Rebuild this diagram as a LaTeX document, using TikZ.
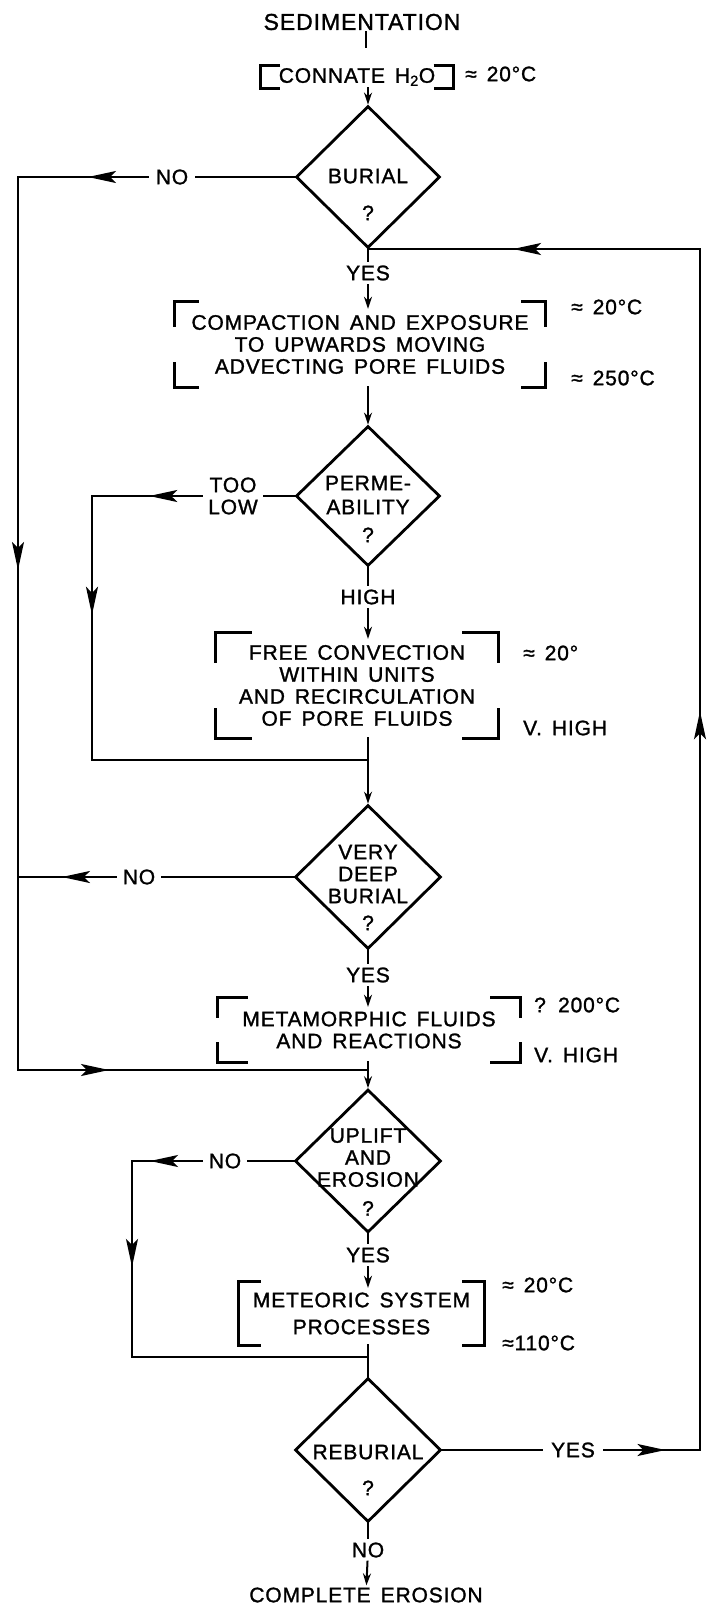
\documentclass[tikz,border=0pt]{standalone}
\usepackage{fontspec}
\setmainfont[LetterSpace=4,WordSpace=1.5,FakeBold=1.3]{Liberation Sans}
\usetikzlibrary{positioning, calc, shapes.geometric, arrows.meta, decorations.markings}

\newcommand{\cornerbox}[3]{%
  \draw[bracket] ([yshift=-#3]#1.north west) -- (#1.north west) -- ([xshift=#2]#1.north west);
  \draw[bracket] ([yshift=-#3]#1.north east) -- (#1.north east) -- ([xshift=-#2]#1.north east);
  \draw[bracket] ([yshift=#3]#1.south west) -- (#1.south west) -- ([xshift=#2]#1.south west);
  \draw[bracket] ([yshift=#3]#1.south east) -- (#1.south east) -- ([xshift=-#2]#1.south east);
}
\newcommand{\fullbox}[2]{%
  \draw[bracket] ([xshift=#2]#1.north west) -- (#1.north west) -- (#1.south west) -- ([xshift=#2]#1.south west);
  \draw[bracket] ([xshift=-#2]#1.north east) -- (#1.north east) -- (#1.south east) -- ([xshift=-#2]#1.south east);
}

\begin{document}
\begin{tikzpicture}[x=1pt, y=-1pt,
  every node/.style={font=\fontsize{21}{22}\selectfont, inner sep=0pt},
  flow/.style={line width=2pt, line cap=rect},
  arr/.style={flow, -{Stealth[length=12pt,width=8pt]}},
  midarr/.style={postaction={decorate,decoration={markings,
    mark=at position #1 with {\arrow{Stealth[length=28pt,width=12pt,inset=6pt]}}}}},
  decision/.style={draw, diamond, line width=2.8pt, minimum width=144pt, minimum height=142pt},
  procbox/.style={rectangle, align=center},
  bracket/.style={line width=3pt},
  answer/.style={inner xsep=8pt, inner ysep=4pt, align=center},
  temp/.style={anchor=west}]
\useasboundingbox (0,0) rectangle (710,1612);

% boxes and decisions
\node[font=\fontsize{23}{24}\selectfont, inner sep=2pt] (sed) at (362,22) {SEDIMENTATION};
\node[procbox, minimum width=193pt, minimum height=22pt] (connate) at (357,77) {CONNATE H\textsubscript{2}O};
\node[decision] (burial) at (368,177) {};
\node[procbox, minimum width=371pt, minimum height=85pt] (compaction) at (360,344.5)
  {COMPACTION AND EXPOSURE\\TO UPWARDS MOVING\\ADVECTING PORE FLUIDS};
\node[decision, minimum height=140pt] (perm) at (368,496) {};
\node[procbox, minimum width=282pt, minimum height=105pt] (free) at (357,685.5)
  {FREE CONVECTION\\WITHIN UNITS\\AND RECIRCULATION\\OF PORE FLUIDS};
\node[decision, minimum width=146pt, minimum height=144pt] (vdeep) at (368,877) {};
\node[procbox, minimum width=302pt, minimum height=64pt] (metamorphic) at (369,1030)
  {METAMORPHIC FLUIDS\\AND REACTIONS};
\node[decision, minimum width=146pt, minimum height=143pt] (uplift) at (368,1161) {};
\node[procbox, minimum width=245pt, minimum height=63pt] (meteoric) at (361.5,1313.5)
  {METEORIC SYSTEM\\[5pt]PROCESSES};
\node[decision, minimum width=146pt, minimum height=144pt] (reburial) at (368,1450) {};
\node[inner sep=2pt] (erosion) at (366,1595) {COMPLETE EROSION};

% text in the diamonds
\node[align=center] (burialt) at (368,194.5) {BURIAL\\[15pt]?};
\node[align=center] (permt) at (368,509) {PERME-\\[2pt]ABILITY\\[6pt]?};
\node[align=center] (vdeept) at (368,887.5) {VERY\\DEEP\\BURIAL\\[5pt]?};
\node[align=center] (upliftt) at (368,1172) {UPLIFT\\AND\\EROSION\\[7pt]?};
\node[align=center] (reburialt) at (368,1470) {REBURIAL\\[14pt]?};

% brackets
\fullbox{connate}{20pt}
\cornerbox{compaction}{25pt}{25pt}
\cornerbox{free}{36pt}{30pt}
\cornerbox{metamorphic}{30pt}{20pt}
\fullbox{meteoric}{22pt}

% temperatures
\node[temp] (t1) at (465,74) {≈ 20°C};
\node[temp] (t2) at (571,307) {≈ 20°C};
\node[temp] (t3) at (571,378) {≈ 250°C};
\node[temp] (t4) at (523,653) {≈ 20°};
\node[temp] (t5) at (523,728) {V. HIGH};
\node[temp] (t6) at (534,1005) {? 200°C};
\node[temp] (t7) at (534,1055) {V. HIGH};
\node[temp] (t8) at (502,1285) {≈ 20°C};
\node[temp] (t9) at (502,1343) {≈110°C};

% answers
\node[answer] (byes) at (368,273) {YES};
\node[answer] (burno) at (172,177) {NO};
\node[answer, inner xsep=6pt] (toolow) at (233,496) {TOO\\LOW};
\node[answer] (high) at (368,597) {HIGH};
\node[answer, inner xsep=7pt] (vdno) at (139,877) {NO};
\node[answer] (vyes) at (368,975) {YES};
\node[answer, inner xsep=7pt] (upno) at (225,1161) {NO};
\node[answer] (uyes) at (368,1255) {YES};
\node[answer, inner xsep=9pt] (rebyes) at (573,1450) {YES};
\node[answer] (rno) at (368,1550) {NO};

% corners of the loops
\coordinate (sedtick) at (366,47);
\coordinate (lt) at (18,177);
\coordinate (ld) at (18,877);
\coordinate (lb) at (18,1070);
\coordinate (metjoin) at (368,1070);
\coordinate (il1) at (92,496);
\coordinate (il2) at (92,760);
\coordinate (freejoin) at (368,760);
\coordinate (ul1) at (132,1161);
\coordinate (ul2) at (132,1357);
\coordinate (metjoin2) at (368,1357);
\coordinate (rr1) at (700,1450);
\coordinate (rr2) at (700,249);
\coordinate (burjoin) at (368,249);

% main line
\draw[flow] (sed.south -| sedtick) -- (sedtick);
\draw[arr] (connate.south -| burial.north) -- (burial.north);
\draw[flow] (burial.south) -- (byes);
\draw[arr] (byes) -- ($(byes |- compaction.north)+(0,7)$);
\draw[arr] (compaction.south -| perm.north) -- (perm.north);
\draw[flow] (perm.south) -- (high);
\draw[arr] (high) -- ($(high |- free.north)+(0,6)$);
\draw[arr] (free.south -| vdeep.north) -- (vdeep.north);
\draw[flow] (vdeep.south) -- (vyes);
\draw[arr] (vyes) -- ($(vyes |- metamorphic.north)+(0,9)$);
\draw[arr] (metamorphic.south -| uplift.north) -- (uplift.north);
\draw[flow] (uplift.south) -- (uyes);
\draw[arr] (uyes) -- ($(uyes |- meteoric.north)+(0,6)$);
\draw[flow] (meteoric.south -| reburial.north) -- (reburial.north);
\draw[flow] (reburial.south) -- (rno);
\draw[arr] (rno) -- (erosion);

% no burial / no very deep burial
\draw[flow] (burial) -- (burno);
\draw[flow, midarr=0.46] (burno) -- (lt);
\draw[flow, midarr=0.44] (lt) -- (lb);
\draw[flow, midarr=0.26] (lb) -- (metjoin);
\draw[flow] (vdeep) -- (vdno);
\draw[flow, midarr=0.55] (vdno) -- (ld);

% low permeability
\draw[flow] (perm) -- (toolow);
\draw[flow, midarr=0.48] (toolow) -- (il1);
\draw[flow, midarr=0.45] (il1) -- (il2);
\draw[flow] (il2) -- (freejoin);

% no uplift
\draw[flow] (uplift) -- (upno);
\draw[flow, midarr=0.74] (upno) -- (ul1);
\draw[flow, midarr=0.54] (ul1) -- (ul2);
\draw[flow] (ul2) -- (metjoin2);

% reburial
\draw[flow] (reburial) -- (rebyes);
\draw[flow, midarr=0.64] (rebyes) -- (rr1);
\draw[flow, midarr=0.615] (rr1) -- (rr2);
\draw[flow, midarr=0.563] (rr2) -- (burjoin);
\end{tikzpicture}
\end{document}
